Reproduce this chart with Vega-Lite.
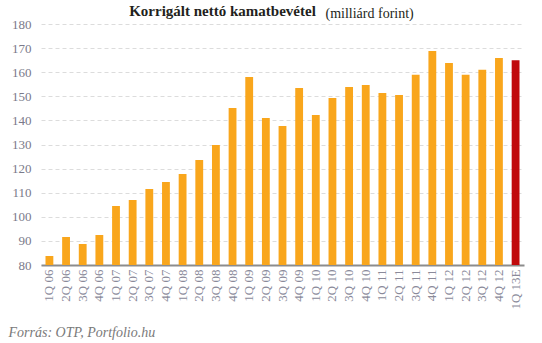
{
  "$schema": "https://vega.github.io/schema/vega-lite/v6.json",
  "autosize": {"type": "none"},
  "width": 483,
  "height": 241,
  "padding": {"left": 41, "top": 24, "right": 18, "bottom": 78},
  "background": "#ffffff",
  "title": {
    "text": "Korrigált nettó kamatbevétel",
    "font": "Liberation Serif",
    "fontSize": 15,
    "fontWeight": "bold",
    "color": "#231f20",
    "anchor": "middle",
    "baseline": "alphabetic",
    "dx": -60,
    "offset": -25
  },
  "data": {
    "values": [
      {"q": "1Q 06", "v": 83.7, "t": "a"},
      {"q": "2Q 06", "v": 91.6, "t": "a"},
      {"q": "3Q 06", "v": 88.7, "t": "a"},
      {"q": "4Q 06", "v": 92.4, "t": "a"},
      {"q": "1Q 07", "v": 104.5, "t": "a"},
      {"q": "2Q 07", "v": 107, "t": "a"},
      {"q": "3Q 07", "v": 111.5, "t": "a"},
      {"q": "4Q 07", "v": 114.4, "t": "a"},
      {"q": "1Q 08", "v": 117.8, "t": "a"},
      {"q": "2Q 08", "v": 123.6, "t": "a"},
      {"q": "3Q 08", "v": 129.8, "t": "a"},
      {"q": "4Q 08", "v": 145.1, "t": "a"},
      {"q": "1Q 09", "v": 158, "t": "a"},
      {"q": "2Q 09", "v": 141, "t": "a"},
      {"q": "3Q 09", "v": 137.7, "t": "a"},
      {"q": "4Q 09", "v": 153.4, "t": "a"},
      {"q": "1Q 10", "v": 142.2, "t": "a"},
      {"q": "2Q 10", "v": 149.3, "t": "a"},
      {"q": "3Q 10", "v": 153.9, "t": "a"},
      {"q": "4Q 10", "v": 154.7, "t": "a"},
      {"q": "1Q 11", "v": 151.4, "t": "a"},
      {"q": "2Q 11", "v": 150.5, "t": "a"},
      {"q": "3Q 11", "v": 158.9, "t": "a"},
      {"q": "4Q 11", "v": 168.8, "t": "a"},
      {"q": "1Q 12", "v": 163.8, "t": "a"},
      {"q": "2Q 12", "v": 158.9, "t": "a"},
      {"q": "3Q 12", "v": 161, "t": "a"},
      {"q": "4Q 12", "v": 165.9, "t": "a"},
      {"q": "1Q 13E", "v": 165, "t": "e"}
    ]
  },
  "mark": {"type": "bar", "clip": true},
  "encoding": {
    "x": {
      "field": "q",
      "type": "nominal",
      "sort": null,
      "scale": {"paddingInner": 0.53, "paddingOuter": 0.27},
      "axis": {
        "title": "Forrás: OTP, Portfolio.hu",
        "titleFont": "Liberation Serif",
        "titleFontStyle": "italic",
        "titleFontWeight": "normal",
        "titleFontSize": 14,
        "titleColor": "#7a7a7a",
        "titleAnchor": "start",
        "titleAlign": "left",
        "titleBaseline": "alphabetic",
        "titleX": -33,
        "titleY": 71,
        "labelAngle": -90,
        "labelFont": "Liberation Serif",
        "labelFontSize": 13,
        "labelColor": "#8a8a9a",
        "labelPadding": 4,
        "ticks": false,
        "domainColor": "#8c8c8c",
        "domainWidth": 2,
        "grid": false
      }
    },
    "y": {
      "field": "v",
      "type": "quantitative",
      "scale": {"domain": [80, 180], "nice": false, "zero": false},
      "axis": {
        "values": [80, 90, 100, 110, 120, 130, 140, 150, 160, 170, 180],
        "title": "(milliárd forint)",
        "titleFont": "Liberation Serif",
        "titleFontWeight": "normal",
        "titleFontSize": 14,
        "titleColor": "#231f20",
        "titleAngle": 0,
        "titleAlign": "left",
        "titleBaseline": "alphabetic",
        "titleX": 284,
        "titleY": -7,
        "labelFont": "Liberation Serif",
        "labelFontSize": 13,
        "labelColor": "#7a7a8a",
        "labelPadding": 10,
        "ticks": false,
        "domain": false,
        "grid": true,
        "gridColor": "#dcdcdc",
        "gridDash": [4, 3],
        "gridWidth": 1
      }
    },
    "color": {
      "field": "t",
      "type": "nominal",
      "scale": {"domain": ["a", "e"], "range": ["#f9a61c", "#c00a0c"]},
      "legend": null
    }
  },
  "config": {"view": {"stroke": null}}
}
